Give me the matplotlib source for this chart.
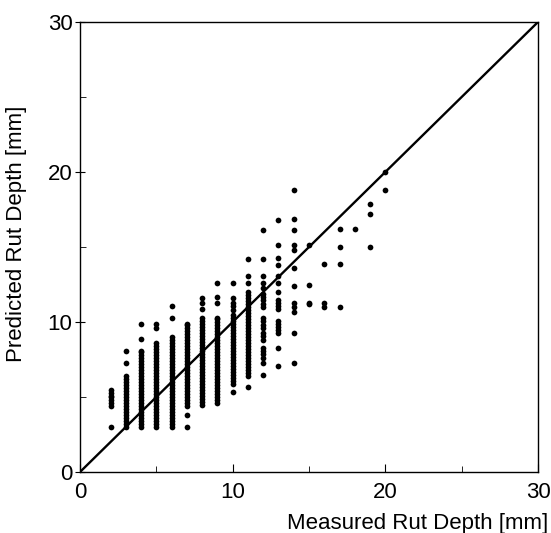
import matplotlib.pyplot as plt
from matplotlib.ticker import MultipleLocator

# measured rut depth columns [mm]
measured = [2, 3, 4, 5, 6, 7, 8, 9, 10, 11, 12, 13, 14, 15, 16, 17, 18, 19, 20]

pred_2 = [3.0, 4.4, 4.6, 4.8, 5.0, 5.1, 5.3, 5.5]
pred_3 = [3.0, 3.2, 3.4, 3.6, 3.8, 4.0, 4.2, 4.4, 4.6, 4.8, 5.0, 5.2, 5.4,
          5.6, 5.8, 6.0, 6.2, 6.4, 7.3, 8.1]
pred_4 = [3.0, 3.2, 3.4, 3.6, 3.8, 4.0, 4.2, 4.4, 4.6, 4.8, 5.0, 5.2, 5.4,
          5.6, 5.8, 6.0, 6.2, 6.4, 6.6, 6.8, 7.0, 7.2, 7.4, 7.6, 7.8, 8.0,
          8.1, 8.9, 9.9]
pred_5 = [3.0, 3.2, 3.4, 3.6, 3.8, 4.0, 4.2, 4.4, 4.6, 4.8, 5.0, 5.2, 5.4,
          5.6, 5.8, 6.0, 6.2, 6.4, 6.6, 6.8, 7.0, 7.2, 7.4, 7.6, 7.8, 8.0,
          8.2, 8.4, 8.6, 9.6, 9.9]
pred_6 = [3.0, 3.2, 3.4, 3.6, 3.8, 4.0, 4.2, 4.4, 4.6, 4.8, 5.0, 5.2, 5.4,
          5.6, 5.8, 6.0, 6.2, 6.4, 6.6, 6.8, 7.0, 7.2, 7.4, 7.6, 7.8, 8.0,
          8.2, 8.4, 8.6, 8.8, 9.0, 10.3, 11.1]
pred_7 = [3.0, 3.8, 4.4, 4.6, 4.8, 5.0, 5.2, 5.4, 5.6, 5.8, 6.0, 6.2, 6.4,
          6.6, 6.8, 7.0, 7.2, 7.4, 7.6, 7.8, 8.0, 8.2, 8.4, 8.6, 8.8, 9.0,
          9.2, 9.4, 9.6, 9.8, 9.9]
pred_8 = [4.5, 4.7, 4.9, 5.1, 5.3, 5.5, 5.7, 5.9, 6.1, 6.3, 6.5, 6.7, 6.9,
          7.1, 7.3, 7.5, 7.7, 7.9, 8.1, 8.3, 8.5, 8.7, 8.9, 9.1, 9.3, 9.5,
          9.7, 9.9, 10.1, 10.3, 10.9, 11.3, 11.6]
pred_9 = [4.6, 4.8, 5.0, 5.2, 5.4, 5.6, 5.8, 6.0, 6.2, 6.4, 6.6, 6.8, 7.0,
          7.2, 7.4, 7.6, 7.8, 8.0, 8.2, 8.4, 8.6, 8.8, 9.0, 9.2, 9.4, 9.6,
          9.8, 10.0, 10.2, 10.3, 11.3, 11.7, 12.6]
pred_10 = [5.35, 5.9, 6.1, 6.3, 6.5, 6.7, 6.9, 7.1, 7.3, 7.5, 7.7, 7.9, 8.1,
           8.3, 8.5, 8.7, 8.9, 9.1, 9.3, 9.5, 9.7, 9.9, 10.1, 10.3, 10.5,
           10.8, 11.1, 11.3, 11.6, 12.6]
pred_11 = [5.7, 6.4, 6.6, 6.8, 7.0, 7.2, 7.4, 7.6, 7.8, 8.0, 8.2, 8.4, 8.6,
           8.8, 9.0, 9.2, 9.4, 9.6, 9.8, 10.0, 10.2, 10.4, 10.6, 10.8, 11.0,
           11.2, 11.4, 11.6, 11.8, 12.0, 12.6, 13.1, 14.2]
pred_12 = [6.5, 7.3, 7.6, 7.9, 8.1, 8.3, 8.8, 9.1, 9.3, 9.6, 9.8, 10.1, 10.3,
           11.0, 11.2, 11.5, 11.7, 11.9, 12.3, 12.6, 13.1, 14.2, 16.1]
pred_13 = [7.1, 8.3, 9.3, 9.5, 9.7, 9.9, 10.1, 10.9, 11.1, 11.3, 11.5, 12.0,
           12.6, 13.1, 13.8, 14.3, 15.1, 16.8]
pred_14 = [7.3, 9.3, 10.7, 11.0, 11.3, 12.4, 13.6, 14.8, 15.1, 16.1, 16.9, 18.8]
pred_15 = [11.2, 11.3, 12.5, 15.1]
pred_16 = [11.0, 11.3, 13.9]
pred_17 = [11.0, 13.9, 15.0, 16.2]
pred_18 = [16.2]
pred_19 = [15.0, 17.2, 17.9]
pred_20 = [18.8, 20.0]

predicted = [pred_2, pred_3, pred_4, pred_5, pred_6, pred_7, pred_8, pred_9,
             pred_10, pred_11, pred_12, pred_13, pred_14, pred_15, pred_16,
             pred_17, pred_18, pred_19, pred_20]

xs = []
ys = []
for m, col in zip(measured, predicted):
    xs += [m] * len(col)
    ys += col

plt.rcParams['font.family'] = ['Liberation Sans', 'DejaVu Sans']
plt.rcParams['font.size'] = 16

fig = plt.figure(figsize=(5.51, 5.33), dpi=100)
ax = fig.add_axes([80 / 551, 61 / 533, 458 / 551, 450 / 533])

# 1:1 line
ax.plot([0, 30], [0, 30], color='black', linewidth=1.7)
ax.scatter(xs, ys, s=17, color='black', linewidths=0, zorder=3)

ax.set_xlim(0, 30)
ax.set_ylim(0, 30)
ax.xaxis.set_major_locator(MultipleLocator(10))
ax.yaxis.set_major_locator(MultipleLocator(10))
ax.xaxis.set_minor_locator(MultipleLocator(5))
ax.yaxis.set_minor_locator(MultipleLocator(5))
ax.tick_params(axis='x', which='major', direction='in', length=6, pad=7)
ax.tick_params(axis='y', which='major', direction='inout', length=7, pad=2)
ax.tick_params(which='minor', direction='in', length=4)
for s in ax.spines.values():
    s.set_linewidth(1.0)

ax.set_xlabel('Measured Rut Depth [mm]', fontsize=16)
ax.xaxis.set_label_coords(1.022, -0.09, transform=ax.transAxes)
ax.xaxis.label.set_horizontalalignment('right')
ax.set_ylabel('Predicted Rut Depth [mm]', fontsize=16)
ax.yaxis.set_label_coords(-0.115, 0.53)

plt.savefig('out.png', dpi=100)
